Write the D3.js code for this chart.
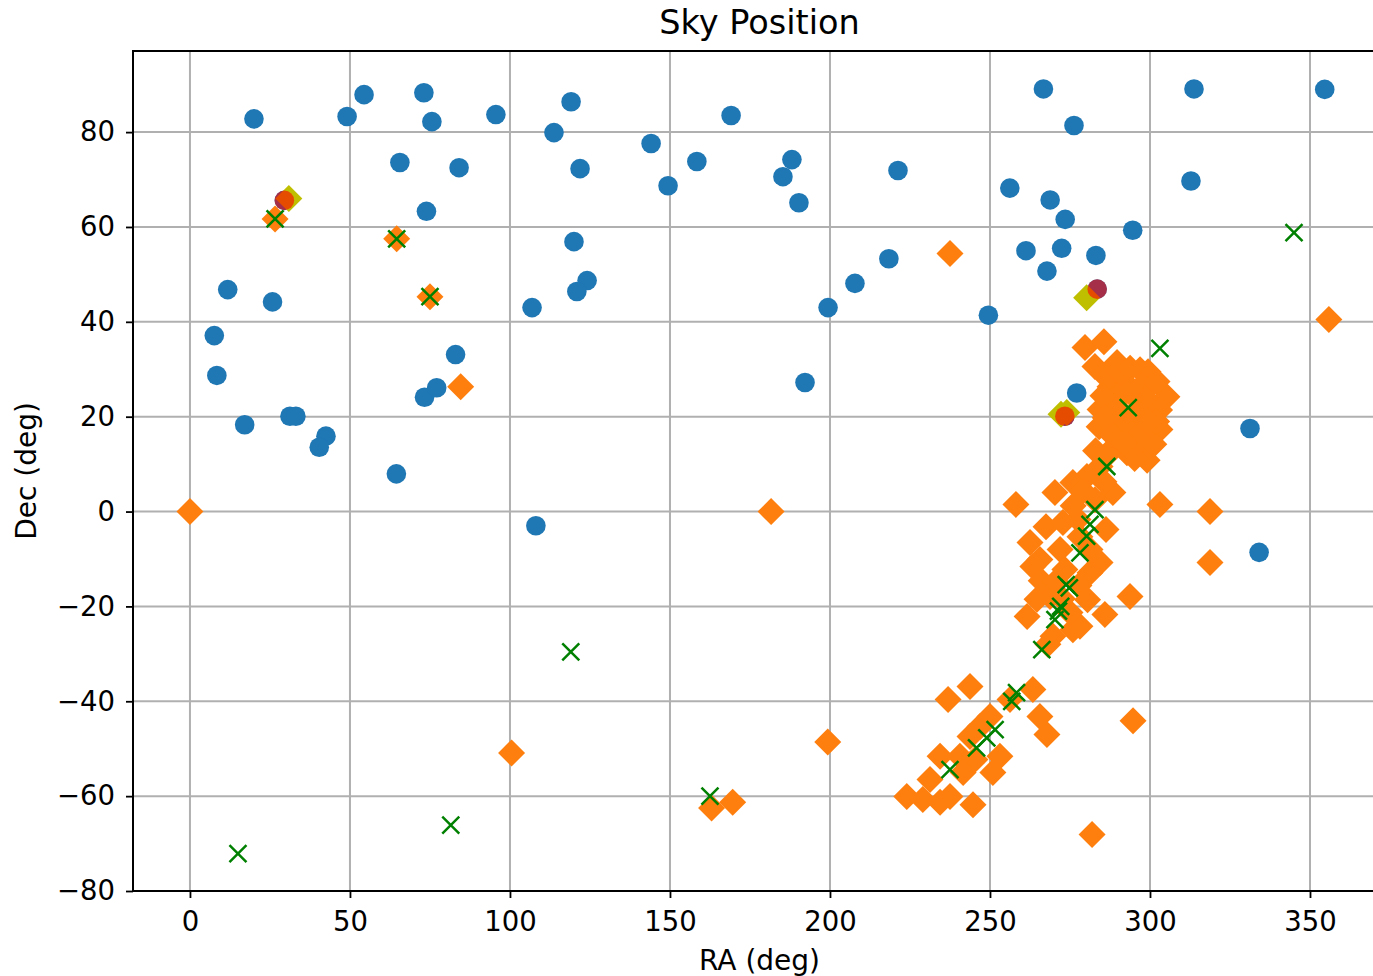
<!DOCTYPE html>
<html>
<head>
<meta charset="utf-8">
<script src="https://cdn.jsdelivr.net/npm/d3@7"></script>
<style>
  html, body { margin: 0; padding: 0; background: #fff; overflow: hidden; }
  text { font-family: "DejaVu Sans", sans-serif; fill: #000; }
</style>
</head>
<body>
<svg id="chart" width="1373" height="976"></svg>
<script>
// Catalogue sources: [RA, Dec] in degrees
const stars = [
  [20, 82.8], [49.1, 83.3], [54.4, 87.9], [73.1, 88.3], [75.6, 82.2], [65.6, 73.6],
  [84.1, 72.5], [95.6, 83.7], [119.1, 86.4], [113.75, 79.9], [121.9, 72.3], [120, 56.9],
  [124.1, 48.7], [120.9, 46.4], [106.9, 43.0], [108.1, -3.0], [144.1, 77.6], [149.4, 68.7],
  [158.4, 73.8], [169.1, 83.5], [188.1, 74.2], [185.3, 70.6], [190.3, 65.1], [221.25, 71.9],
  [218.4, 53.3], [207.8, 48.1], [199.4, 43.0], [192.2, 27.2], [331.25, 17.5], [334.1, -8.6],
  [277.1, 25.0], [273.4, 20.1], [283.5, 46.9], [29.5, 65.6],
  [266.7, 89.1], [276.25, 81.4], [256.2, 68.2], [268.8, 65.7], [273.5, 61.6], [294.6, 59.3],
  [261.25, 55.0], [272.4, 55.5], [283.1, 54.0], [267.8, 50.7], [249.5, 41.4],
  [313.75, 89.1], [354.6, 89.0], [312.8, 69.7], [73.9, 63.3],
  [11.8, 46.8], [25.8, 44.2], [7.6, 37.1], [8.4, 28.7], [17.1, 18.3], [31.25, 20.1],
  [33.1, 20.1], [42.5, 15.9], [40.4, 13.55], [64.5, 7.95], [73.3, 24.1], [77.1, 26.1],
  [83.0, 33.1]
];

// Detected events: [RA, Dec]
const events = [
  [279.7, 34.6], [285.6, 35.8], [282.8, 30.6], [289.7, 31.4], [296.9, 29.9], [299.4, 29.5],
  [305.3, 24.2], [300, 26.3], [287.5, 26.3], [292.2, 27.2], [295.9, 23.6], [284.4, 21.5],
  [284.1, 17.9], [288.4, 19.4], [294.7, 17.9], [303.1, 17.3], [300.9, 20.0], [296.9, 13.7],
  [292.8, 12.4], [299.1, 10.8], [290.6, 15.8], [300, 22.6], [290, 23.6], [295.3, 20.4],
  [293.1, 16.2],
  [286.5, 28.2], [291.0, 25.0], [297.5, 26.5], [302.2, 27.4], [287.2, 22.3], [292.3, 20.2],
  [298.0, 17.2], [303.0, 21.4], [289.0, 13.8], [295.2, 11.2], [301.2, 14.2], [285.3, 24.4],
  [290.4, 29.6], [293.8, 30.2], [298.4, 23.9], [302.1, 19.0], [296.1, 15.3], [291.2, 18.3],
  [288.0, 16.2], [286.0, 19.8], [294.0, 25.8], [297.0, 20.6], [299.8, 18.8], [292.0, 14.4],
  [283.0, 12.8], [286.8, 12.0],
  [284.4, 9.5], [280.3, 7.4], [275.9, 6.1], [270.3, 4.0], [288.4, 4.0], [258.1, 1.5],
  [267.5, -3.2], [272.8, -2.3], [277.5, -1.7], [286.25, -3.8], [262.5, -6.5], [263.4, -11.6],
  [281.25, -8.0], [284.4, -10.75], [281.25, -12.9], [271.9, -8.0], [273.4, -12.2],
  [293.75, -17.9], [285.9, -21.7], [261.6, -22.1], [264.7, -18.5], [268.75, -17.9],
  [275.9, -24.9], [278.1, -24.2], [275, -21.3], [269.7, -26.3], [268.1, -28.0],
  [303.1, 1.5], [318.75, 0], [318.75, -10.75], [278.1, -5.3], [282.8, 2.5], [265.6, -10.1],
  [279.0, 4.4], [285.6, 6.3], [276.0, 1.2], [266.0, -14.6], [270.5, -14.8], [277.8, -15.6],
  [280.5, -18.6], [272.6, -18.4],
  [263.4, -37.5], [265.6, -43.2], [267.8, -47.0], [294.7, -44.1], [243.75, -36.9],
  [236.9, -39.6], [246.9, -45.3], [250, -43.2], [243.75, -47.4], [253.1, -51.6],
  [250.9, -55.0], [245.3, -52.3], [240.6, -51.6], [234.4, -51.6], [231.25, -56.5],
  [224, -60.1], [229, -60.7], [234.4, -61.3], [237.5, -60.1], [244.7, -61.8], [241.6, -55.0],
  [281.9, -68.1], [256.25, -39.6],
  [0, 0], [237.5, 54.4], [355.9, 40.5], [181.6, 0], [100.5, -50.9], [199.3, -48.6],
  [163, -62.5], [169.6, -61.3], [84.6, 26.3], [75, 45.3], [64.6, 57.5], [26.6, 61.7]
];

// Candidate counterparts: [RA, Dec]
const candidates = [
  [26.6, 61.7], [64.6, 57.5], [75, 45.3], [15, -72.1], [119, -29.6], [81.5, -66.1],
  [162.5, -60.0], [345, 58.8], [303.1, 34.4], [293.2, 21.9], [286.5, 9.5], [282.8, 0.4],
  [281.25, -2.7], [280.2, -5.2], [278.1, -8.7], [274.8, -16.1], [273.8, -15.4],
  [272.1, -20.0], [271.4, -21.0], [270.3, -22.8], [266.2, -29.1], [258.3, -38.2],
  [256.8, -40.0], [251.6, -46.0], [249, -47.7], [245.8, -49.8], [237.5, -54.4]
];

// Confirmed matches: [RA, Dec]
const matched = [[30.9, 66.0], [280.2, 45.1], [272.2, 20.5], [274.0, 20.9]];

// Highlighted sources: [RA, Dec]
const highlighted = [[29.5, 65.6], [283.5, 46.9], [273.4, 20.1]];

const xTicks = [0, 50, 100, 150, 200, 250, 300, 350];
const yTicks = [-80, -60, -40, -20, 0, 20, 40, 60, 80];

const titleText = "Sky Position";
const xLabel = "RA (deg)";
const yLabel = "Dec (deg)";

// Layout
const plot = { left: 133, right: 1386, top: 51, bottom: 891 };

const svg = d3.select("#chart");

const x = d3.scaleLinear().domain([-17.8, 373.75]).range([plot.left, plot.right]);
const y = d3.scaleLinear().domain([-80, 97.1]).range([plot.bottom, plot.top]);

svg.append("defs").append("clipPath").attr("id", "plotClip")
  .append("rect")
  .attr("x", plot.left).attr("y", plot.top)
  .attr("width", plot.right - plot.left).attr("height", plot.bottom - plot.top);

// Grid
const grid = svg.append("g");
grid.selectAll("line.gx").data(xTicks).join("line")
  .attr("x1", d => x(d)).attr("x2", d => x(d))
  .attr("y1", plot.top).attr("y2", plot.bottom)
  .attr("stroke", "#b0b0b0").attr("stroke-width", 2);
grid.selectAll("line.gy").data(yTicks).join("line")
  .attr("x1", plot.left).attr("x2", plot.right)
  .attr("y1", d => y(d)).attr("y2", d => y(d))
  .attr("stroke", "#b0b0b0").attr("stroke-width", 2);

const marks = svg.append("g").attr("clip-path", "url(#plotClip)");

// Circles
marks.append("g").selectAll("circle").data(stars).join("circle")
  .attr("cx", d => x(d[0])).attr("cy", d => y(d[1]))
  .attr("r", 9.8).attr("fill", "#1f77b4");

// Diamonds (square rotated 45 degrees)
function diamond(h) {
  return `M0,${-h}L${h},0L0,${h}L${-h},0Z`;
}
marks.append("g").selectAll("path").data(events).join("path")
  .attr("transform", d => `translate(${x(d[0])},${y(d[1])})`)
  .attr("d", diamond(13.5)).attr("fill", "#ff7f0e");

// Crosses
marks.append("g").selectAll("path").data(candidates).join("path")
  .attr("transform", d => `translate(${x(d[0])},${y(d[1])})`)
  .attr("d", "M-8.5,-8.5L8.5,8.5M-8.5,8.5L8.5,-8.5")
  .attr("stroke", "#008000").attr("stroke-width", 2.5).attr("fill", "none");

marks.append("g").selectAll("path").data(matched).join("path")
  .attr("transform", d => `translate(${x(d[0])},${y(d[1])})`)
  .attr("d", diamond(13.5)).attr("fill", "#bfbf00");

marks.append("g").selectAll("circle").data(highlighted).join("circle")
  .attr("cx", d => x(d[0])).attr("cy", d => y(d[1]))
  .attr("r", 9.8).attr("fill", "#ff0000").attr("fill-opacity", 0.6);

// Axes
const fmt = d => d3.format("d")(d).replace("-", "\u2212");
const xAxis = d3.axisBottom(x).tickValues(xTicks).tickSize(7).tickPadding(13).tickFormat(fmt);
const yAxis = d3.axisLeft(y).tickValues(yTicks).tickSize(7).tickPadding(11).tickFormat(fmt);

const gx = svg.append("g").attr("transform", `translate(0,${plot.bottom})`).call(xAxis);
const gy = svg.append("g").attr("transform", `translate(${plot.left},0)`).call(yAxis);
[gx, gy].forEach(g => {
  g.select(".domain").remove();
  g.selectAll(".tick line").attr("stroke", "#000").attr("stroke-width", 1.8);
  g.selectAll(".tick text").attr("font-size", 27.5).attr("font-family", "DejaVu Sans, sans-serif").attr("fill", "#000");
});

// Spines: left, top, bottom (right spine lies beyond the canvas)
const spines = [
  [plot.left, plot.top, plot.left, plot.bottom],
  [plot.left, plot.top, plot.right, plot.top],
  [plot.left, plot.bottom, plot.right, plot.bottom]
];
svg.append("g").selectAll("line").data(spines).join("line")
  .attr("x1", d => d[0]).attr("y1", d => d[1]).attr("x2", d => d[2]).attr("y2", d => d[3])
  .attr("stroke", "#000").attr("stroke-width", 2).attr("stroke-linecap", "square");

// Title and labels
const cx = (plot.left + plot.right) / 2;
svg.append("text").attr("x", cx).attr("y", 34).attr("text-anchor", "middle")
  .attr("font-size", 33.5).text(titleText);
svg.append("text").attr("x", cx).attr("y", 970).attr("text-anchor", "middle")
  .attr("font-size", 28).text(xLabel);
svg.append("text").attr("transform", `translate(36,${(plot.top + plot.bottom) / 2}) rotate(-90)`)
  .attr("text-anchor", "middle").attr("font-size", 28).text(yLabel);
</script>
</body>
</html>
